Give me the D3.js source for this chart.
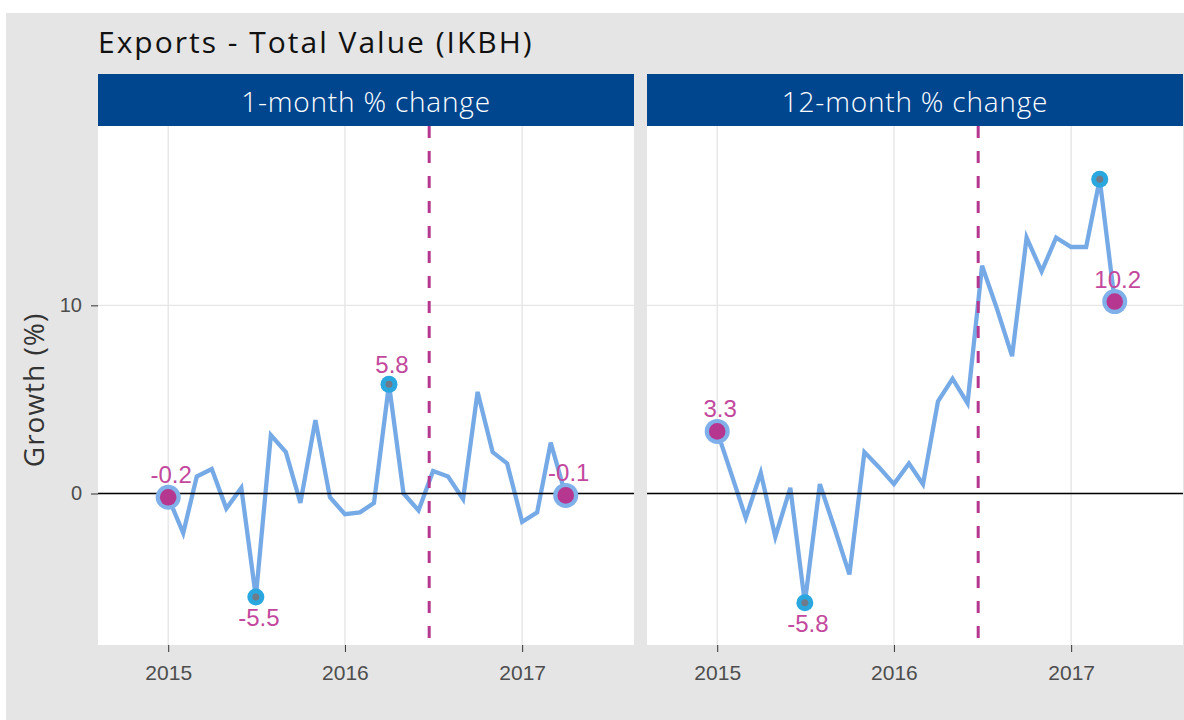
<!DOCTYPE html>
<html>
<head>
<meta charset="utf-8">
<script src="https://cdn.jsdelivr.net/npm/d3@7"></script>
<style>
  body { margin: 0; background: #fff; }
  svg { display: block; }
</style>
</head>
<body>
<div id="content"></div>
<script>
// data
var months = ["2015-01","2015-02","2015-03","2015-04","2015-05","2015-06","2015-07","2015-08","2015-09","2015-10","2015-11","2015-12",
              "2016-01","2016-02","2016-03","2016-04","2016-05","2016-06","2016-07","2016-08","2016-09","2016-10","2016-11","2016-12",
              "2017-01","2017-02","2017-03","2017-04"];
var monthlyChange = [-0.2, -2.1, 0.9, 1.3, -0.8, 0.3, -5.5, 3.1, 2.2, -0.5, 3.9, -0.2,
                     -1.1, -1.0, -0.5, 5.8, 0.0, -0.9, 1.2, 0.9, -0.3, 5.4, 2.2, 1.6,
                     -1.5, -1.0, 2.7, -0.1];
var annualChange = [3.3, 0.9, -1.3, 1.1, -2.3, 0.3, -5.8, 0.5, -1.9, -4.3, 2.2, 1.4,
                    0.5, 1.6, 0.5, 4.9, 6.1, 4.8, 12.1, 9.8, 7.3, 13.6, 11.8, 13.6,
                    13.1, 13.1, 16.7, 10.2];
var panelTitles = ["1-month % change", "12-month % change"];
var showMaxLabel = [true, false];
var yTicks = [0, 10];
var xTicks = ["2015-01-01", "2016-01-01", "2017-01-01"];
var referendumDate = "2016-06-23";
var chartTitle = "Exports - Total Value (IKBH)";
var yTitle = "Growth (%)";

// colours
var lineColor = "#76aae6", pink = "#b5378f", labelColor = "#c3489d", stripColor = "#00468f";

var W = 1184, H = 720;
var panelW = 536, panelH = 519, panelTop = 126, stripH = 52;
var panelLeft = [98, 647];

var parseDay = d3.timeParse("%Y-%m-%d");
var parseMonth = d3.timeParse("%Y-%m");

var x = d3.scaleTime()
    .domain([parseDay("2014-08-09"), parseDay("2017-08-20")])
    .range([0, panelW]);
var y = d3.scaleLinear().domain([-8.05, 19.53]).range([panelH, 0]);

var svg = d3.select("#content").append("svg").attr("width", W).attr("height", H);

svg.append("rect").attr("x", 6).attr("y", 13).attr("width", W - 6).attr("height", H - 13).attr("fill", "#e5e5e5");

svg.append("text").attr("x", 98).attr("y", 53)
    .style("font-family", "'Open Sans', sans-serif").style("font-size", "30px")
    .style("letter-spacing", "2px").attr("fill", "#111")
    .text(chartTitle);

svg.append("text")
    .attr("transform", "translate(44,390) rotate(-90)")
    .attr("text-anchor", "middle")
    .style("font-family", "'Open Sans', sans-serif").style("font-size", "28px")
    .style("letter-spacing", "1px").attr("fill", "#333")
    .text(yTitle);

var series = [monthlyChange, annualChange];

series.forEach(function(values, p) {
  var data = months.map(function(m, i) { return { date: parseMonth(m), value: values[i] }; });
  var g = svg.append("g").attr("transform", "translate(" + panelLeft[p] + "," + panelTop + ")");

  // strip
  svg.append("rect").attr("x", panelLeft[p]).attr("y", panelTop - stripH)
      .attr("width", panelW).attr("height", stripH).attr("fill", stripColor);
  svg.append("text").attr("x", panelLeft[p] + panelW / 2).attr("y", 112)
      .attr("text-anchor", "middle")
      .style("font-family", "'Open Sans', sans-serif").style("font-size", "28px").style("font-weight", 300)
      .style("letter-spacing", "0.8px")
      .attr("fill", "#fff").text(panelTitles[p]);

  g.append("rect").attr("width", panelW).attr("height", panelH).attr("fill", "#fff");

  // grid
  g.selectAll(".vgrid").data(xTicks).enter().append("line")
      .attr("x1", function(d) { return x(parseDay(d)); }).attr("x2", function(d) { return x(parseDay(d)); })
      .attr("y1", 0).attr("y2", panelH).attr("stroke", "#e6e6e6").attr("stroke-width", 1.4);
  g.selectAll(".hgrid").data(yTicks).enter().append("line")
      .attr("x1", 0).attr("x2", panelW)
      .attr("y1", function(d) { return y(d); }).attr("y2", function(d) { return y(d); })
      .attr("stroke", "#e6e6e6").attr("stroke-width", 1.4);

  // x axis
  var xAxis = d3.axisBottom(x).tickValues(xTicks.map(parseDay)).tickFormat(d3.timeFormat("%Y"))
      .tickSize(7).tickPadding(13);
  var ax = g.append("g").attr("transform", "translate(0," + panelH + ")").call(xAxis);
  ax.select(".domain").remove();
  ax.selectAll("line").attr("stroke", "#333");
  ax.selectAll("text").style("font-family", "'Liberation Sans', Arial, sans-serif").style("font-size", "21px").attr("fill", "#4d4d4d");

  if (p === 0) {
    var yAxis = d3.axisLeft(y).tickValues(yTicks).tickSize(7).tickPadding(9);
    var ay = g.append("g").call(yAxis);
    ay.select(".domain").remove();
    ay.selectAll("line").attr("stroke", "#333");
    ay.selectAll("text").style("font-family", "'Liberation Sans', Arial, sans-serif").style("font-size", "20px").attr("fill", "#4d4d4d");
  }

  // series line
  var line = d3.line().x(function(d) { return x(d.date); }).y(function(d) { return y(d.value); });
  g.append("path").datum(data).attr("d", line).attr("fill", "none")
      .attr("stroke", lineColor).attr("stroke-width", 4.3);

  // zero line
  g.append("line").attr("x1", 0).attr("x2", panelW).attr("y1", y(0)).attr("y2", y(0))
      .attr("stroke", "#000").attr("stroke-width", 1.4);

  // referendum
  var rx = x(parseDay(referendumDate));
  g.append("line").attr("x1", rx).attr("x2", rx).attr("y1", 0).attr("y2", panelH)
      .attr("stroke", pink).attr("stroke-width", 3).attr("stroke-dasharray", "12,13");

  // highlighted points
  var first = data[0], last = data[data.length - 1];
  var maxPt = data.reduce(function(a, b) { return b.value > a.value ? b : a; });
  var minPt = data.reduce(function(a, b) { return b.value < a.value ? b : a; });

  [maxPt, minPt].forEach(function(d) {
    g.append("circle").attr("cx", x(d.date)).attr("cy", y(d.value)).attr("r", 8.5).attr("fill", "#2aa7df");
    g.append("circle").attr("cx", x(d.date)).attr("cy", y(d.value)).attr("r", 3.5).attr("fill", "#6f7b88");
  });
  [first, last].forEach(function(d) {
    g.append("circle").attr("cx", x(d.date)).attr("cy", y(d.value)).attr("r", 12.5).attr("fill", "#7fb0ea");
    g.append("circle").attr("cx", x(d.date)).attr("cy", y(d.value)).attr("r", 8.3).attr("fill", pink);
  });

  var labels = [
    { d: first, dy: -14 },
    { d: last, dy: -14 },
    { d: minPt, dy: 29 }
  ];
  if (showMaxLabel[p]) labels.push({ d: maxPt, dy: -11 });

  g.selectAll(".lab").data(labels).enter().append("text")
      .attr("x", function(l) { return x(l.d.date) + 3; })
      .attr("y", function(l) { return y(l.d.value) + l.dy; })
      .attr("text-anchor", "middle")
      .style("font-family", "'Liberation Sans', Arial, sans-serif").style("font-size", "24px")
      .attr("fill", labelColor)
      .text(function(l) { return l.d.value.toFixed(1); });
});
</script>
</body>
</html>
